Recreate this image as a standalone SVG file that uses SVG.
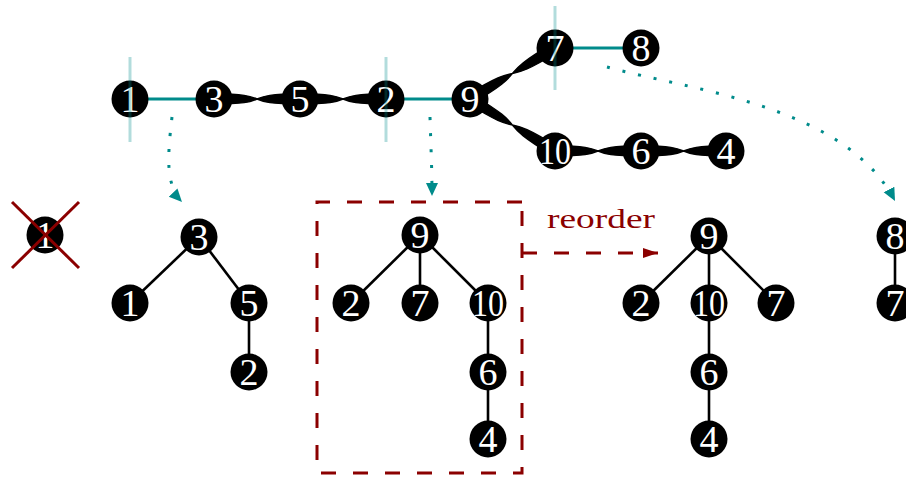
<svg xmlns="http://www.w3.org/2000/svg" xmlns:xlink="http://www.w3.org/1999/xlink" width="906" height="477" viewBox="0 0 906 477">
  <style>
    .node circle { fill: #000; }
    .node text { fill: #fff; font-family: "Liberation Serif", "DejaVu Serif", serif; font-size: 38px; text-anchor: middle; }
    .tree { stroke: #000; stroke-width: 2.6; fill: none; }
    .link { stroke: #008b8b; stroke-width: 3; fill: none; }
    .cut { stroke: #008b8b; stroke-opacity: 0.3; stroke-width: 3; fill: none; }
    .rib { fill: #000; stroke: #000; stroke-width: 1.4; stroke-linejoin: round; }
    .dots { stroke: #008b8b; stroke-width: 3; fill: none; stroke-dasharray: 3 13; }
    .box { stroke: #8b0000; stroke-width: 3; fill: none; stroke-dasharray: 15 17; }
    .cross { stroke: #8b0000; stroke-width: 3; }
    .label { fill: #8b0000; font-family: "Liberation Serif", "DejaVu Serif", serif; font-size: 28px; }
  </style>
  <defs>
    <!-- twisted ribbon edge, 86 units long along x -->
    <path id="rib" d="M0,-5 C30,-5 36,-3 43,0 C50,3 56,5 86,5 L86,-5 C56,-5 50,-3 43,0 C36,3 30,5 0,5 Z"/>
    <marker id="tealHead" markerUnits="userSpaceOnUse" markerWidth="14" markerHeight="14" viewBox="0 0 14 14" refX="13" refY="7" orient="auto">
      <path d="M0,1 L13,7 L0,13 Z" fill="#008b8b"/>
    </marker>
    <marker id="redHead" markerUnits="userSpaceOnUse" markerWidth="16" markerHeight="12" viewBox="0 0 16 12" refX="15" refY="6" orient="auto">
      <path d="M0,1 L15,6 L0,11 Z" fill="#8b0000"/>
    </marker>
  </defs>

  <!-- connectors -->
  <g id="connectors">
    <!-- top path: preferred (teal) and heavy (ribbon) edges -->
    <line class="link" x1="130" y1="99" x2="214" y2="99"/>
    <line class="link" x1="386" y1="99" x2="470" y2="99"/>
    <line class="link" x1="555" y1="48" x2="641" y2="48"/>
    <use xlink:href="#rib" class="rib" transform="translate(214,99)"/>
    <use xlink:href="#rib" class="rib" transform="translate(300,99)"/>
    <use xlink:href="#rib" class="rib" transform="translate(555,151)"/>
    <use xlink:href="#rib" class="rib" transform="translate(641,151) scale(0.99,1)"/>
    <use xlink:href="#rib" class="rib" transform="translate(470,99) rotate(-31) scale(1.152,1)"/>
    <use xlink:href="#rib" class="rib" transform="translate(470,99) rotate(31.5) scale(1.158,1)"/>

    <!-- dotted split arrows -->
    <path class="dots" d="M172,117 C167,160 166,185 182,202" marker-end="url(#tealHead)"/>
    <path class="dots" d="M430,117 C431,150 432,170 432,196" marker-end="url(#tealHead)"/>
    <path class="dots" d="M607,67 C690,90 845,105 895,201" marker-end="url(#tealHead)"/>

    <!-- left tree -->
    <line class="tree" x1="199" y1="237" x2="130" y2="303"/>
    <line class="tree" x1="199" y1="237" x2="249" y2="303"/>
    <line class="tree" x1="249" y1="303" x2="249" y2="372"/>

    <!-- middle tree -->
    <line class="tree" x1="420" y1="235" x2="351" y2="303"/>
    <line class="tree" x1="420" y1="235" x2="420" y2="303"/>
    <line class="tree" x1="420" y1="235" x2="488" y2="303"/>
    <line class="tree" x1="488" y1="303" x2="488" y2="439"/>

    <!-- reordered tree -->
    <line class="tree" x1="709" y1="236" x2="641" y2="303"/>
    <line class="tree" x1="709" y1="236" x2="709" y2="439"/>
    <line class="tree" x1="709" y1="236" x2="776" y2="303"/>

    <!-- far right tree -->
    <line class="tree" x1="895" y1="236" x2="895" y2="303"/>

    <!-- dashed frame and reorder arrow -->
    <path class="box" d="M522,202 L317,202 L317,473 L522,473 L522,202"/>
    <path class="box" d="M522,253 L658,253" marker-end="url(#redHead)"/>
  </g>

  <text class="label" x="547" y="228" textLength="108" lengthAdjust="spacingAndGlyphs">reorder</text>

  <!-- top path nodes -->
  <g id="t1" class="node"><circle cx="130" cy="99" r="18.5"/><text x="130" y="112">1</text></g>
  <g id="t3" class="node"><circle cx="214" cy="99" r="18.5"/><text x="214" y="112">3</text></g>
  <g id="t5" class="node"><circle cx="300" cy="99" r="18.5"/><text x="300" y="112">5</text></g>
  <g id="t2" class="node"><circle cx="386" cy="99" r="18.5"/><text x="386" y="112">2</text></g>
  <g id="t9" class="node"><circle cx="470" cy="99" r="18.5"/><text x="470" y="112">9</text></g>
  <g id="t7" class="node"><circle cx="555" cy="48" r="18.5"/><text x="555" y="61">7</text></g>
  <g id="t8" class="node"><circle cx="641" cy="48" r="18.5"/><text x="641" y="61">8</text></g>
  <g id="t10" class="node"><circle cx="555" cy="151" r="18.5"/><text x="555" y="164" textLength="32" lengthAdjust="spacingAndGlyphs">10</text></g>
  <g id="t6" class="node"><circle cx="641" cy="151" r="18.5"/><text x="641" y="164">6</text></g>
  <g id="t4" class="node"><circle cx="726" cy="151" r="18.5"/><text x="726" y="164">4</text></g>

  <!-- cut markers -->
  <g id="cuts">
    <line class="cut" x1="130" y1="57" x2="130" y2="142"/>
    <line class="cut" x1="386" y1="57" x2="386" y2="142"/>
    <line class="cut" x1="555" y1="6" x2="555" y2="90"/>
  </g>

  <!-- removed node -->
  <g id="removed1" class="node">
    <circle cx="45" cy="235" r="18.5"/><text x="45" y="248">1</text>
    <line class="cross" x1="12" y1="202" x2="79" y2="268"/>
    <line class="cross" x1="79" y1="202" x2="12" y2="268"/>
  </g>

  <!-- left tree nodes -->
  <g id="a3" class="node"><circle cx="199" cy="237" r="18.5"/><text x="199" y="250">3</text></g>
  <g id="a1" class="node"><circle cx="130" cy="303" r="18.5"/><text x="130" y="316">1</text></g>
  <g id="a5" class="node"><circle cx="249" cy="303" r="18.5"/><text x="249" y="316">5</text></g>
  <g id="a2" class="node"><circle cx="249" cy="372" r="18.5"/><text x="249" y="385">2</text></g>

  <!-- middle tree nodes -->
  <g id="b9" class="node"><circle cx="420" cy="235" r="18.5"/><text x="420" y="248">9</text></g>
  <g id="b2" class="node"><circle cx="351" cy="303" r="18.5"/><text x="351" y="316">2</text></g>
  <g id="b7" class="node"><circle cx="420" cy="303" r="18.5"/><text x="420" y="316">7</text></g>
  <g id="b10" class="node"><circle cx="488" cy="303" r="18.5"/><text x="488" y="316" textLength="32" lengthAdjust="spacingAndGlyphs">10</text></g>
  <g id="b6" class="node"><circle cx="488" cy="372" r="18.5"/><text x="488" y="385">6</text></g>
  <g id="b4" class="node"><circle cx="488" cy="439" r="18.5"/><text x="488" y="452">4</text></g>

  <!-- reordered tree nodes -->
  <g id="c9" class="node"><circle cx="709" cy="236" r="18.5"/><text x="709" y="249">9</text></g>
  <g id="c2" class="node"><circle cx="641" cy="303" r="18.5"/><text x="641" y="316">2</text></g>
  <g id="c10" class="node"><circle cx="709" cy="303" r="18.5"/><text x="709" y="316" textLength="32" lengthAdjust="spacingAndGlyphs">10</text></g>
  <g id="c7" class="node"><circle cx="776" cy="303" r="18.5"/><text x="776" y="316">7</text></g>
  <g id="c6" class="node"><circle cx="709" cy="372" r="18.5"/><text x="709" y="385">6</text></g>
  <g id="c4" class="node"><circle cx="709" cy="439" r="18.5"/><text x="709" y="452">4</text></g>

  <!-- far right tree nodes -->
  <g id="d8" class="node"><circle cx="895" cy="236" r="18.5"/><text x="895" y="249">8</text></g>
  <g id="d7" class="node"><circle cx="895" cy="303" r="18.5"/><text x="895" y="316">7</text></g>
</svg>
